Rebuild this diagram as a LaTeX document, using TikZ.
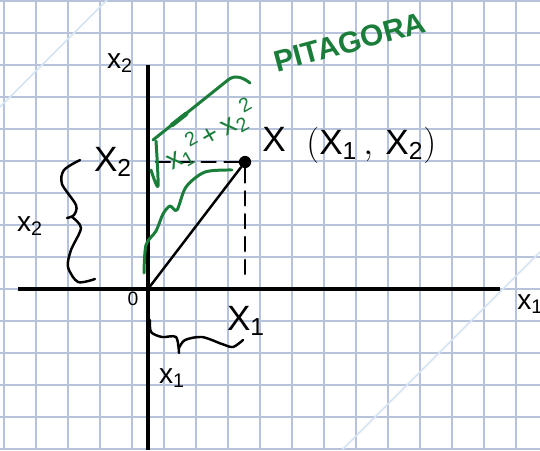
\documentclass[tikz,border=0pt]{standalone}
\usepackage{fontspec}
\setmainfont{Liberation Sans}
\setsansfont{Liberation Sans}
\usepackage{tikz}
\usetikzlibrary{positioning}
\definecolor{gridblue}{HTML}{B6C3DB}
\definecolor{diagblue}{HTML}{D6E5F4}
\definecolor{inkgreen}{HTML}{1A7D3A}

\begin{document}
\begin{tikzpicture}[x=0.02cm, y=-0.02cm,
  paper/.style={draw=gridblue, line width=0.7pt},
  diag/.style={draw=diagblue, line width=0.9pt},
  axis/.style={line width=1.8pt},
  pen/.style={line width=1.4pt, line cap=round, line join=round},
  greenpen/.style={pen, draw=inkgreen, line width=1.7pt},
  big/.style={font=\sffamily\fontsize{20}{24}\selectfont, inner sep=0pt},
  small/.style={font=\sffamily\fontsize{16}{18}\selectfont, inner sep=0pt},
  rootpart/.style={small, text=inkgreen, rotate=30}]
\useasboundingbox (0,0) rectangle (540,450);
\fill[white] (0,0) rectangle (540,450);
% squared paper
\foreach \i in {0,...,16} \draw[paper] (4+32*\i,0) -- (4+32*\i,450);
\foreach \j in {0,...,14} \draw[paper] (0,1+32*\j) -- (540,1+32*\j);
\draw[diag] (0,107) -- (107,0);
\draw[diag] (342,450) -- (540,252);
% axes
\coordinate (O) at (148,289);
\coordinate (xstart) at (18,289);
\coordinate (xend) at (500,289);
\coordinate (ytop) at (148,65);
\coordinate (ybot) at (148,450);
\draw[axis] (xstart) -- (xend);
\draw[axis] (ytop) -- (ybot);
\node[small, anchor=west] (xlab) at (517,304) {x\textsubscript{1}};
\node[small] (ylab) at (120,63) {x\textsubscript{2}};
\node[font=\sffamily\fontsize{11}{12}\selectfont, inner sep=0pt] (zero) at (133,299) {0};
% point and projections
\node[circle, fill, inner sep=0pt, minimum size=7pt] (P) at (245,162) {};
\coordinate (Py) at (150,162);
\coordinate (Px) at (245,282);
\draw[pen] (O) -- (P);
\draw[pen, dash pattern=on 8pt off 5pt] (P) -- (Py);
\draw[pen, dash pattern=on 8pt off 5pt] (P) -- (Px);
\node[big] (X) at (274,139) {X};
\node[big, anchor=west] (coords) at (306,145) {$\Bigl(\mathrm{X}_{\mathrm{1}}\,,\,\mathrm{X}_{\mathrm{2}}\Bigr)$};
% coordinates on the axes
\node[big] (X2) at (113,162) {X\textsubscript{2}};
\node[big] (X1) at (246,321) {X\textsubscript{1}};
% braces
\draw[pen] plot[smooth] coordinates {(80,160) (64,170) (62,184) (76,205) (74,215) (67,218)};
\draw[pen] plot[smooth] coordinates {(72,217) (81,228) (71,250) (68,267) (78,282) (95,279)};
\node[small] (x2) at (30,226) {x\textsubscript{2}};
\draw[pen] plot[smooth] coordinates {(150,320) (151,332) (162,337) (176,337) (179,353)};
\draw[pen] plot[smooth] coordinates {(179,348) (185,340) (202,337) (222,344) (233,347) (243,340)};
\node[small] (x1) at (172,378) {x\textsubscript{1}};
% Pitagora
\node[big, text=inkgreen, rotate=15, font=\sffamily\bfseries\fontsize{17}{20}\selectfont] (title) at (350,42) {PITAGORA};
\draw[greenpen] plot[smooth] coordinates {(151,170) (158,186) (156,141)};
\draw[greenpen] (153,140) -- (228,80) .. controls (235,74) and (244,78) .. (250,83);
\draw[greenpen, line width=2.6pt] (172,125) -- (186,114);
\node[rootpart] (r1) at (184,152) {x\textsubscript{1}\textsuperscript{2}};
\node[rootpart] (rplus) at (211,136) {+};
\node[rootpart] (r2) at (238,118) {x\textsubscript{2}\textsuperscript{2}};
\draw[greenpen] plot[smooth] coordinates {(144,273) (146,245) (156,231) (163,214) (170,206) (177,210) (186,187) (205,172) (232,170)};
\end{tikzpicture}
\end{document}
